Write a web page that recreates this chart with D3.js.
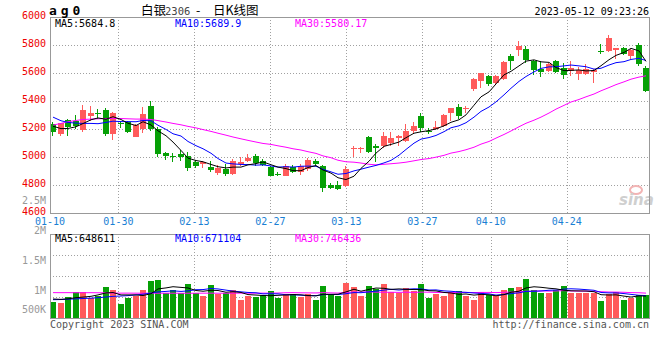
<!DOCTYPE html>
<html><head><meta charset="utf-8">
<script src="https://cdnjs.cloudflare.com/ajax/libs/d3/7.8.5/d3.min.js"></script>
<style>html,body{margin:0;padding:0;background:#fff;}svg{display:block;}</style>
</head><body>
<svg id="chart" width="660" height="360"></svg>
<script>
// ---------- DATA ----------
const dates = ["01-10","01-11","01-12","01-13","01-16","01-17","01-18","01-19","01-20","01-30","01-31",
"02-01","02-02","02-03","02-06","02-07","02-08","02-09","02-10","02-13","02-14","02-15","02-16","02-17","02-20","02-21","02-22","02-23","02-24","02-27","02-28",
"03-01","03-02","03-03","03-06","03-07","03-08","03-09","03-10","03-13","03-14","03-15","03-16","03-17","03-20","03-21","03-22","03-23","03-24","03-27","03-28","03-29","03-30","03-31",
"04-03","04-04","04-06","04-07","04-10","04-11","04-12","04-13","04-14","04-17","04-18","04-19","04-20","04-21","04-24","04-25","04-26","04-27","04-28",
"05-04","05-05","05-08","05-09","05-10","05-11","05-12"];

const open = [5237,5166,5268,5256,5197,5294,5315,5337,5168,5242,
5249,5147,5204,5363,5201,5030,5006,5023,5009,4964,
4952,4933,4888,4916,4881,4952,4976,5009,4971,4928,
4882,4869,4933,4893,4916,4973,4938,4805,4802,4798,
5064,5062,5147,5083,5078,5102,5137,5118,5185,5296,
5188,5201,5225,5315,5356,5351,5486,5546,5581,5529,
5558,5724,5767,5771,5688,5629,5617,5686,5641,5617,
5598,5598,5610,5758,5760,5767,5783,5724,5800,5641];
const high = [5254,5248,5272,5301,5372,5363,5344,5349,5325,5261,
5261,5237,5358,5401,5213,5040,5030,5054,5035,4981,
4973,4976,4947,4952,4988,4999,5023,5023,4988,4940,
4897,4952,4945,4952,4992,4988,4945,4817,4833,4940,
5078,5071,5154,5095,5178,5178,5159,5237,5254,5313,
5207,5256,5308,5353,5380,5363,5570,5605,5586,5586,
5686,5736,5828,5795,5695,5688,5676,5693,5676,5686,
5645,5664,5629,5807,5871,5783,5788,5776,5814,5653];
const low = [5154,5154,5154,5201,5182,5261,5273,5149,5126,5211,
5173,5147,5171,5185,5004,4983,4964,4976,4905,4921,
4921,4898,4876,4869,4876,4940,4964,4940,4935,4864,
4864,4864,4886,4876,4905,4940,4755,4774,4767,4791,
4999,5030,5030,4969,5064,5083,5083,5111,5173,5182,
5166,5197,5218,5261,5273,5320,5475,5493,5510,5522,
5553,5622,5724,5676,5586,5577,5610,5600,5558,5581,
5550,5586,5529,5736,5752,5700,5729,5705,5653,5467];
const close = [5182,5244,5216,5225,5337,5316,5312,5168,5316,5237,
5182,5230,5306,5201,5026,5009,5004,5004,4926,4940,
4964,4912,4921,4881,4971,4964,4995,4962,4945,4869,
4880,4940,4893,4940,4981,4950,4783,4783,4774,4916,
5068,5066,5038,5064,5154,5137,5154,5190,5223,5206,
5180,5216,5301,5349,5296,5355,5558,5600,5527,5579,
5679,5686,5795,5696,5622,5610,5665,5610,5586,5636,
5624,5629,5624,5756,5850,5779,5736,5767,5667,5475];

const ma5 = [5222,5205,5206,5218,5241,5268,5281,5272,5290,5270,
5243,5227,5254,5231,5189,5154,5109,5049,4994,4977,
4968,4949,4933,4924,4930,4930,4946,4955,4967,4947,
4930,4919,4905,4904,4927,4941,4909,4887,4854,4841,
4865,4921,4972,5030,5078,5092,5109,5140,5172,5182,
5191,5203,5225,5250,5268,5303,5372,5432,5467,5524,
5589,5614,5653,5687,5696,5682,5678,5641,5619,5621,
5624,5617,5620,5654,5697,5728,5749,5778,5760,5685];
const ma10 = [5287,5261,5249,5244,5242,5242,5240,5249,5258,5255,
5255,5254,5263,5261,5229,5199,5168,5152,5113,5083,
5061,5029,4991,4959,4953,4949,4948,4944,4946,4938,
4930,4933,4930,4936,4937,4936,4914,4896,4879,4884,
4903,4915,4930,4942,4960,4978,5015,5056,5101,5130,
5141,5156,5183,5211,5225,5247,5287,5328,5359,5396,
5446,5493,5542,5577,5610,5635,5646,5647,5653,5659,
5653,5647,5630,5636,5659,5676,5683,5699,5707,5691];
const ma30 = [5230,5242,5254,5263,5270,5273,5275,5277,5277,5277,
5275,5273,5273,5270,5262,5252,5242,5232,5221,5210,
5198,5185,5172,5158,5145,5132,5121,5109,5099,5092,
5082,5072,5061,5052,5040,5028,5010,4997,4979,4968,
4965,4959,4950,4946,4950,4954,4959,4965,4975,4984,
4991,5001,5014,5030,5041,5054,5072,5094,5113,5137,
5163,5188,5218,5243,5265,5287,5316,5344,5371,5395,
5413,5432,5452,5475,5498,5519,5539,5558,5573,5582];

const volume = [480000,441000,621000,771000,771000,600000,651000,921000,831000,411000,
600000,651000,831000,1101000,1131000,750000,831000,732000,1011000,750000,
642000,972000,702000,750000,831000,531000,651000,630000,681000,801000,
591000,702000,702000,630000,702000,531000,951000,681000,651000,1050000,
930000,660000,951000,852000,1011000,771000,732000,891000,810000,1011000,
600000,702000,660000,732000,801000,660000,531000,771000,672000,651000,
831000,891000,921000,1161000,831000,750000,750000,831000,951000,750000,
732000,732000,732000,501000,702000,760000,540000,590000,680000,673000];
const vma5 = [560000,550000,565000,600000,617000,641000,683000,743000,755000,683000,
683000,683000,665000,719000,863000,893000,929000,909000,891000,815000,
793000,821000,815000,763000,779000,757000,693000,679000,665000,659000,
671000,681000,695000,685000,665000,653000,703000,699000,703000,773000,
853000,794000,848000,889000,881000,849000,863000,851000,843000,843000,
809000,803000,757000,741000,699000,711000,677000,699000,687000,657000,
691000,763000,793000,891000,927000,911000,883000,865000,823000,806000,
803000,799000,779000,689000,680000,685000,647000,619000,654000,649000];
const vma10 = [540000,545000,555000,565000,575000,585000,600000,620000,640000,650000,
662000,683000,704000,737000,773000,788000,806000,787000,805000,839000,
843000,875000,862000,827000,797000,775000,757000,747000,714000,719000,
714000,687000,687000,675000,662000,662000,692000,697000,694000,719000,
753000,749000,774000,796000,827000,851000,829000,850000,866000,862000,
829000,833000,804000,792000,771000,760000,740000,728000,714000,678000,
701000,720000,746000,789000,792000,801000,823000,829000,857000,867000,
857000,841000,822000,756000,743000,744000,723000,699000,672000,664000];
const vma30 = [752000,750000,751000,749000,748000,750000,747000,746000,738000,736000,
737000,735000,734000,736000,733000,735000,734000,732000,734000,733000,
735000,736000,734000,733000,735000,736000,734000,735000,736000,736000,
740000,748000,751000,746000,744000,742000,752000,744000,738000,759000,
770000,770000,774000,766000,762000,763000,759000,765000,758000,767000,
765000,756000,755000,754000,753000,758000,754000,758000,758000,753000,
761000,767000,775000,792000,797000,804000,797000,802000,812000,802000,
796000,798000,791000,779000,769000,768000,762000,752000,748000,736000];

const dateTicks = ["01-10","01-30","02-13","02-27","03-13","03-27","04-10","04-24"];
const priceTicks = [4600,4800,5000,5200,5400,5600,5800,6000];
const volTicks = [2500000,2000000,1500000,1000000,500000];
const volTickText = ["2.5M","2M","1.5M","1M","500K"];
const priceMAText = ["MA5:5684.8","MA10:5689.9","MA30:5580.17"];
const volMAText = ["MA5:648611","MA10:671104","MA30:746436"];

// ---------- LAYOUT ----------
const svg = d3.select("#chart");
const MONO = "'DejaVu Sans Mono', 'Liberation Mono', monospace";
const L = 50, R = 649;
const pTop = 17.3, pBot = 213.3, vTop = 234.3, vBot = 317.7;
const UP = "#ff5b5b", DOWN = "#06a006", GRID = "#a0a0a0", FRAME = "#999";
const maColors = ["#000000", "#0000ff", "#ff00ff"];

const x = d3.scaleBand().domain(dates).range([L, R + 0.5]).paddingInner(0.2).paddingOuter(0);
const xg = d3.scaleLinear().domain([0, dates.length - 1]).range([L, L + 600.4]);
const yP = d3.scaleLinear().domain([4600, 6000]).range([pBot, pTop]);
const yV = d3.scaleLinear().domain([0, 2500000]).range([vBot, vTop]);
const yVLabel = d3.scaleLinear().domain([1000000, 2500000]).range([290.8, 200.5]);

const bw = Math.round(x.bandwidth());
const bx = d => Math.round(x(d));
const cx = d => bx(d) + bw / 2;
const isUp = i => close[i] >= open[i];

// ---------- GRID ----------
const g = svg.append("g").attr("shape-rendering", "crispEdges");
const gridIdx = dateTicks.slice(1).map(t => dates.indexOf(t));
priceTicks.filter(v => v > 4600 && v < 6000).forEach(v => {
  const yy = Math.round(yP(v)) + 0.5;
  g.append("line").attr("x1", L).attr("x2", R).attr("y1", yy).attr("y2", yy)
    .attr("stroke", GRID).attr("stroke-dasharray", "1,2");
});
d3.range(1, 4).forEach(k => {
  const yy = Math.round(vTop + k * (vBot - vTop) / 4) + 0.5;
  g.append("line").attr("x1", L).attr("x2", R).attr("y1", yy).attr("y2", yy)
    .attr("stroke", GRID).attr("stroke-dasharray", "1,2");
});
gridIdx.forEach(i => {
  const xx = Math.round(xg(i)) + 0.5;
  [[pTop, pBot], [vTop, vBot]].forEach(([a, b]) => {
    g.append("line").attr("x1", xx).attr("x2", xx).attr("y1", a).attr("y2", b)
      .attr("stroke", GRID).attr("stroke-dasharray", "1,2");
  });
});

// watermark
const wm = svg.append("g");
wm.append("ellipse").attr("cx", 636).attr("cy", 190).attr("rx", 6).attr("ry", 4)
  .attr("fill", "none").attr("stroke", "#f2b4b4").attr("stroke-width", 2);
wm.append("text").attr("x", 619).attr("y", 205).text("sina")
  .attr("font-family", "'DejaVu Sans', sans-serif").attr("font-size", 15).attr("font-weight", "bold")
  .attr("font-style", "italic").attr("fill", "#cfcfcf");

// ---------- CANDLES ----------
const cg = svg.append("g").attr("shape-rendering", "crispEdges");
dates.forEach((d, i) => {
  const col = isUp(i) ? UP : DOWN;
  const x0 = bx(d);
  const yh = Math.round(yP(high[i])), yl = Math.round(yP(low[i]));
  cg.append("rect").attr("x", x0 + Math.floor(bw / 2) - 1)
    .attr("y", yh).attr("width", 1).attr("height", Math.max(1, yl - yh)).attr("fill", col);
  const yt = Math.round(yP(Math.max(open[i], close[i])));
  const yb = Math.round(yP(Math.min(open[i], close[i])));
  cg.append("rect").attr("x", x0).attr("y", yt).attr("width", bw).attr("height", Math.max(1, yb - yt))
    .attr("fill", col);
});

// ---------- VOLUME BARS ----------
const vg = svg.append("g").attr("shape-rendering", "crispEdges");
dates.forEach((d, i) => {
  const yt = Math.round(yV(volume[i]));
  vg.append("rect").attr("x", bx(d)).attr("y", yt).attr("width", bw)
    .attr("height", Math.round(vBot) - yt).attr("fill", isUp(i) ? UP : DOWN);
});

// ---------- MA LINES ----------
const lineP = d3.line().x((v, i) => cx(dates[i])).y(v => yP(v));
const lineV = d3.line().x((v, i) => cx(dates[i])).y(v => yV(v));
[ma30, ma10, ma5].forEach((arr, k) => {
  svg.append("path").attr("d", lineP(arr)).attr("fill", "none")
    .attr("stroke", maColors[2 - k]).attr("stroke-width", 1);
});
[vma30, vma10, vma5].forEach((arr, k) => {
  svg.append("path").attr("d", lineV(arr)).attr("fill", "none")
    .attr("stroke", maColors[2 - k]).attr("stroke-width", 1);
});

// ---------- FRAMES ----------
const fg = svg.append("g").attr("shape-rendering", "crispEdges");
[[pTop, pBot], [vTop, vBot]].forEach(([a, b]) => {
  fg.append("rect").attr("x", L + 0.5).attr("y", Math.round(a) + 0.5)
    .attr("width", R - L).attr("height", Math.round(b) - Math.round(a))
    .attr("fill", "none").attr("stroke", FRAME);
});

// ---------- TEXT ----------
const txt = (xx, yy, s, opts = {}) => svg.append("text").attr("x", xx).attr("y", yy).text(s)
  .attr("font-family", opts.family || MONO).attr("font-size", opts.size || 10)
  .attr("fill", opts.fill || "#000").attr("text-anchor", opts.anchor || "start")
  .attr("font-weight", opts.weight || "normal")
  .attr("letter-spacing", opts.ls || 0);

// price axis labels
priceTicks.forEach(v => txt(46, yP(v) + 2, String(v), {fill: "#ee0000", anchor: "end"}));
// volume axis labels (sina spaces them evenly, the last one clamped above the panel bottom)
volTicks.forEach((v, k) => txt(46, Math.min(yVLabel(v), 309) + 3.6, volTickText[k], {fill: "#999", anchor: "end"}));
// date labels
dateTicks.forEach(t => txt(xg(dates.indexOf(t)), 224.5, t, {fill: "#1a7fd4", anchor: "middle"}));

// header
txt(49, 15, "ag0", {size: 13, weight: "bold", ls: "3.9px"});
const title = svg.append("text").attr("y", 15).attr("font-family", "'Noto Sans CJK SC', sans-serif").attr("font-size", 12.5);
title.append("tspan").attr("x", 141).text("白银");
title.append("tspan").attr("x", 165).attr("font-family", MONO).attr("font-size", 10.5).attr("fill", "#444").text("2306");
title.append("tspan").attr("x", 196).text("-");
title.append("tspan").attr("x", 213).text("日K线图");
txt(649, 15, "2023-05-12 09:23:26", {anchor: "end"});

// MA legends
const legX = [55, 175, 295];
priceMAText.forEach((s, k) => txt(legX[k], 26.5, s, {fill: maColors[k]}));
volMAText.forEach((s, k) => txt(legX[k], 241.7, s, {fill: maColors[k]}));

// footer
txt(50, 327.5, "Copyright 2023 SINA.COM", {fill: "#555"});
txt(649, 327.5, "http://finance.sina.com.cn", {fill: "#555", anchor: "end"});
</script>
</body></html>
